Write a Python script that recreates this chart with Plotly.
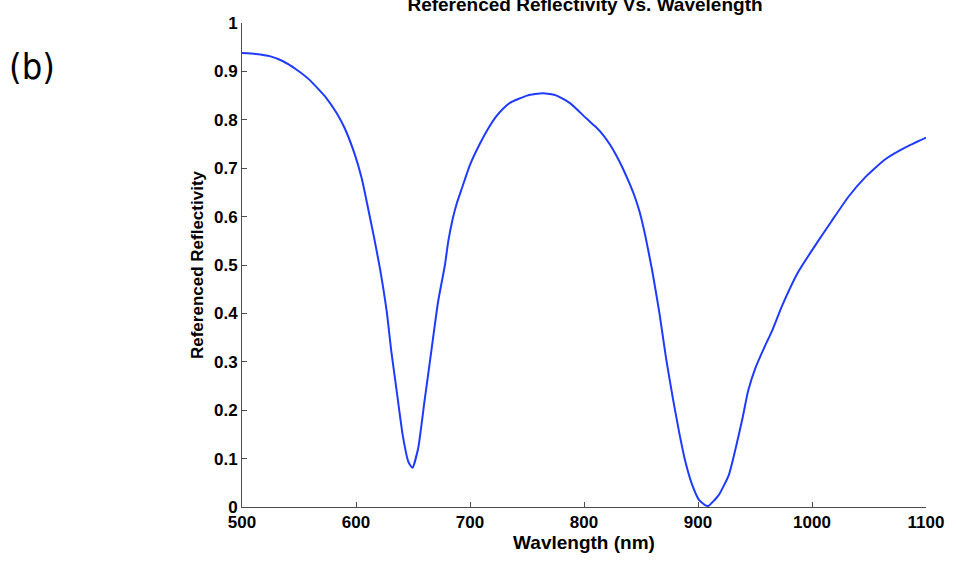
import plotly.graph_objects as go

wavelength = [500, 512, 525, 536, 547, 559, 574, 583, 590, 599, 605, 610, 616, 621, 627, 631,
              635, 641, 646, 649.5, 654.5, 660, 666, 672, 678, 681, 685, 688.5, 692.5, 700,
              709, 716, 723, 729, 735, 750, 764, 776, 788, 802, 810, 817, 823, 828, 834, 840,
              845, 849, 854, 860, 866, 872, 878, 884, 889, 895, 901, 907, 909, 918, 927, 933,
              939, 944, 950, 959, 965, 974, 988, 1003, 1017, 1032, 1047, 1064, 1082, 1100]
reflectivity = [0.938, 0.936, 0.931, 0.921, 0.905, 0.883, 0.845, 0.814, 0.783, 0.728, 0.679,
                0.624, 0.555, 0.493, 0.403, 0.321, 0.252, 0.148, 0.093, 0.081, 0.121, 0.217,
                0.321, 0.424, 0.500, 0.550, 0.597, 0.628, 0.656, 0.707, 0.752, 0.782, 0.807,
                0.823, 0.835, 0.850, 0.855, 0.850, 0.834, 0.803, 0.786, 0.768, 0.748, 0.728,
                0.700, 0.668, 0.638, 0.608, 0.558, 0.486, 0.403, 0.307, 0.224, 0.148, 0.093,
                0.045, 0.014, 0.003, 0.002, 0.024, 0.066, 0.121, 0.183, 0.240, 0.285, 0.334,
                0.364, 0.417, 0.486, 0.541, 0.590, 0.641, 0.682, 0.718, 0.743, 0.763]

x_ticks = [500, 600, 700, 800, 900, 1000, 1100]
y_ticks = [0, 0.1, 0.2, 0.3, 0.4, 0.5, 0.6, 0.7, 0.8, 0.9, 1]
y_tick_text = ["0", "0.1", "0.2", "0.3", "0.4", "0.5", "0.6", "0.7", "0.8", "0.9", "1"]

FONT = "Liberation Sans, Arial, Helvetica, sans-serif"
AXC = "#4d4d4d"

fig = go.Figure()
fig.add_trace(go.Scatter(x=wavelength, y=reflectivity, mode="lines",
                         line=dict(color="#1f3bff", width=2, shape="spline", smoothing=0.5),
                         showlegend=False))

fig.update_layout(
    width=956, height=562,
    margin=dict(l=242, r=28, t=23, b=55),
    paper_bgcolor="white", plot_bgcolor="white",
    font=dict(family=FONT, color="black", size=17),
    title=dict(text="Referenced Reflectivity Vs. Wavelength", x=(242 + 928) / 2 / 956,
               xanchor="center", xref="container", yref="container",
               y=1 - 4 / 562, yanchor="middle",
               font=dict(family=FONT, size=19, color="black", weight="bold")),
    xaxis=dict(range=[500, 1100], tickvals=x_ticks, ticks="inside", ticklen=5,
               tickcolor=AXC, showline=True, linecolor=AXC, linewidth=1,
               showgrid=False, zeroline=False,
               tickfont=dict(family=FONT, size=17, color="black", weight="bold"),
               title=dict(text="Wavlength (nm)", standoff=2,
                          font=dict(family=FONT, size=19, color="black", weight="bold"))),
    yaxis=dict(range=[0, 1], tickvals=y_ticks, ticktext=y_tick_text, ticks="inside",
               ticklen=5, tickcolor=AXC, showline=True, linecolor=AXC, linewidth=1,
               showgrid=False, zeroline=False,
               tickfont=dict(family=FONT, size=17, color="black", weight="bold"),
               title=dict(text="Referenced Reflectivity", standoff=6,
                          font=dict(family=FONT, size=17, color="black", weight="bold"))),
    annotations=[dict(text="(b)", xref="paper", yref="paper",
                      x=(31 - 242) / 686, y=(507 - 66) / 484,
                      xanchor="center", yanchor="middle", showarrow=False,
                      font=dict(family="Liberation Sans Narrow, DejaVu Sans Condensed, sans-serif",
                                size=36, color="black", weight="normal"))],
)

fig.write_html("out.html")
